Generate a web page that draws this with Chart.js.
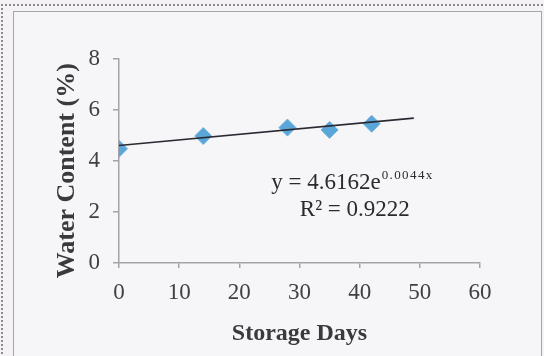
<!DOCTYPE html>
<html>
<head>
<meta charset="utf-8">
<script src="https://cdn.jsdelivr.net/npm/chart.js@4/dist/chart.umd.min.js"></script>
<style>
  html, body { margin: 0; padding: 0; background: #f4f2f4; }
  #wrap { position: relative; width: 544px; height: 356px; overflow: hidden; }
  #outer { position: absolute; left: 1px; top: 4px; width: 560px; height: 400px;
           border-top: 2px dotted #8a8a90; border-left: 2px dotted #8a8a90; }
  #inner { position: absolute; left: 13px; top: 11px; width: 527px; height: 400px;
           border: 1.5px solid #a6a6aa; background: #f6f5f7; }
  canvas { position: absolute; left: 0; top: 0; }
</style>
</head>
<body>
<div id="wrap">
  <div id="outer"></div>
  <div id="inner"></div>
  <canvas id="c" width="544" height="356"></canvas>
</div>
<script>
// ---- data ----
const storageDays   = [0, 14, 28, 35, 42];
const waterContent  = [4.48, 4.98, 5.31, 5.22, 5.46];
const trendDays     = [0, 49];
const trendValues   = [4.61, 5.68];
const xTicks        = [0, 10, 20, 30, 40, 50, 60];
const yTicks        = [0, 2, 4, 6, 8];
const equationText  = 'y = 4.6162e';
const exponentText  = '0.0044x';
const r2Text        = 'R\u00B2 = 0.9222';
const xTitle        = 'Storage Days';
const yTitle        = 'Water Content (%)   ';

const serif = "'Liberation Serif', 'Times New Roman', serif";

const annotationPlugin = {
  id: 'trendLabel',
  afterDatasetsDraw(chart) {
    const {ctx, scales: {x, y}} = chart;
    ctx.save();
    ctx.fillStyle = '#2b2b2e';
    ctx.textBaseline = 'middle';
    // equation line
    const ex = x.getPixelForValue(25.3);
    const ey = y.getPixelForValue(3.15);
    ctx.font = '23px ' + serif;
    ctx.textAlign = 'left';
    ctx.fillText(equationText, ex, ey);
    const w = ctx.measureText(equationText).width;
    ctx.font = '13px ' + serif;
    try { ctx.letterSpacing = '1.4px'; } catch (e) {}
    ctx.fillText(exponentText, ex + w + 1, ey - 7);
    try { ctx.letterSpacing = '0px'; } catch (e) {}
    // R² line
    ctx.font = '23px ' + serif;
    ctx.textAlign = 'center';
    ctx.fillText(r2Text, x.getPixelForValue(39.2), y.getPixelForValue(2.08));
    ctx.restore();
  }
};

new Chart(document.getElementById('c'), {
  type: 'scatter',
  data: {
    datasets: [
      {
        label: 'Trend',
        type: 'line',
        data: trendDays.map((d, i) => ({x: d, y: trendValues[i]})),
        borderColor: '#2a2a33',
        borderWidth: 1.6,
        pointRadius: 0,
        fill: false,
        order: 1
      },
      {
        label: 'Water Content',
        data: storageDays.map((d, i) => ({x: d, y: waterContent[i]})),
        pointStyle: 'rectRot',
        pointRadius: 8.5,
        pointBackgroundColor: '#5ba6d8',
        pointBorderColor: '#6fb2de',
        pointBorderWidth: 1,
        order: 2
      }
    ]
  },
  options: {
    responsive: false,
    animation: false,
    devicePixelRatio: 1,
    layout: { padding: { left: 0, top: 59, right: 64, bottom: 0 } },
    plugins: { legend: { display: false }, tooltip: { enabled: false } },
    scales: {
      x: {
        type: 'linear',
        min: 0, max: 60,
        afterBuildTicks: (s) => { s.ticks = xTicks.map(v => ({value: v})); },
        afterFit: (s) => { s.height = 93; },
        border: { display: true, color: '#a3a3a8', width: 1.5 },
        grid: { drawOnChartArea: false, drawTicks: true, tickLength: 5, color: '#a3a3a8', lineWidth: 1.5 },
        ticks: { color: '#404044', font: { family: serif, size: 23 }, padding: 11, maxRotation: 0 },
        title: { display: true, text: xTitle, color: '#3a3a3e',
                 font: { family: serif, size: 24, weight: 'bold' }, padding: { top: 0, bottom: 8 } }
      },
      y: {
        type: 'linear',
        min: 0, max: 8,
        afterBuildTicks: (s) => { s.ticks = yTicks.map(v => ({value: v})); },
        afterFit: (s) => { s.width = 119; },
        border: { display: true, color: '#a3a3a8', width: 1.5 },
        grid: { drawOnChartArea: false, drawTicks: true, tickLength: 6, color: '#a3a3a8', lineWidth: 1.5 },
        ticks: { color: '#404044', font: { family: serif, size: 23 }, padding: 13 },
        title: { display: true, text: yTitle, color: '#3a3a3e',
                 font: { family: serif, size: 26, weight: 'bold' }, padding: { top: 52, bottom: 0 } }
      }
    }
  },
  plugins: [annotationPlugin]
});
</script>
</body>
</html>
